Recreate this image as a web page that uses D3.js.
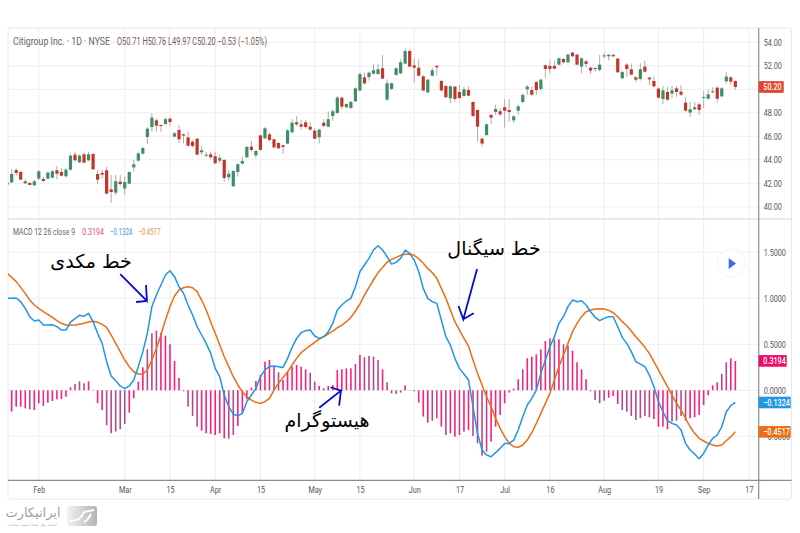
<!DOCTYPE html>
<html>
<head>
<meta charset="utf-8">
<title>Citigroup MACD</title>
<script src="https://cdn.jsdelivr.net/npm/d3@7/dist/d3.min.js"></script>
<style>
	html, body { margin: 0; padding: 0; background: #fff; }
	svg { display: block; }
	text { font-family: Roboto, "Open Sans", sans-serif; }
	.fa { font-family: "DejaVu Sans", sans-serif; fill: #000; direction: rtl; }
	.axis text { fill: #555; font-size: 9.5px; }
	.axis path, .axis line { display: none; }
</style>
</head>
<body>
<div id="chart"></div>
<script>
'use strict';

// candles, one entry per trading day
var opens = [41.89,42.08,43.13,42.96,42.0,42.03,41.83,42.4,42.37,42.4,42.48,43.11,42.96,42.6,43.16,44.44,43.79,44.47,43.96,44.5,42.79,42.88,43.11,41.49,41.2,42.14,41.55,41.97,43.36,43.93,44.52,45.94,46.79,47.36,46.96,47.05,47.5,45.97,46.54,46.17,45.91,45.54,45.8,44.64,44.38,44.47,44.3,43.93,43.99,42.51,41.74,42.96,43.67,44.21,45.12,44.38,46.08,45.83,46.17,45.74,45.43,45.23,45.38,46.34,47.19,47.02,47.19,46.82,46.48,45.92,47.16,46.82,47.73,47.99,49.29,48.47,48.41,48.98,49.9,51.02,51.05,51.33,51.3,51.79,49.12,50.03,51.22,51.36,52.18,53.26,52.04,51.84,51.1,49.74,51.16,51.99,50.71,50.28,49.23,50.23,49.77,49.43,49.94,48.92,48.24,45.8,46.11,47.82,48.07,48.13,48.47,48.24,47.36,48.18,48.92,50.0,49.94,50.62,50.03,52.04,51.99,51.99,52.1,52.58,52.3,53.12,52.95,51.93,52.38,51.84,51.81,51.65,52.84,52.81,52.92,52.61,50.94,52.1,51.7,51.02,50.88,51.93,50.99,50.71,50.06,49.18,49.77,49.63,50.08,49.8,48.86,48.02,48.3,48.72,49.29,49.2,49.74,50.14,49.4,50.68,51.02,50.71];
var highs = [42.2,43.22,43.28,43.08,42.34,42.08,42.28,43.13,42.57,43.0,43.13,43.47,43.28,43.28,44.47,44.67,44.47,44.64,44.69,44.55,43.13,43.13,43.42,42.71,42.71,42.71,42.57,43.02,43.99,44.69,45.12,46.77,47.96,47.53,47.02,47.62,47.62,46.37,46.96,46.25,46.4,45.69,45.86,45.18,44.67,44.69,44.69,44.41,44.04,43.13,43.11,43.7,44.27,45.18,45.63,44.84,46.14,46.77,46.31,45.83,45.55,45.29,46.6,47.45,47.73,47.39,47.39,47.19,46.68,46.65,47.45,48.1,48.3,49.43,49.37,48.81,49.04,50.17,51.42,51.42,51.5,52.13,52.16,52.92,50.85,50.57,51.87,52.55,53.49,53.4,52.64,52.55,51.22,50.88,51.84,52.07,50.8,50.37,50.34,50.28,50.37,50.23,50.23,48.98,48.3,45.9,47.1,47.87,48.67,48.38,49.15,49.18,47.79,48.67,49.66,50.37,50.23,50.71,50.91,52.13,52.44,52.44,52.7,52.67,53.03,53.2,53.03,52.7,52.5,51.93,51.87,52.92,53.12,53.0,53.0,52.67,51.59,52.21,52.21,51.13,52.21,52.44,51.08,51.08,50.17,50.28,50.23,50.28,50.28,50.34,49.32,48.92,48.92,48.86,49.86,49.94,50.17,50.23,50.17,51.47,51.13,50.76];
var lows = [41.8,42.0,42.65,42.28,41.94,41.83,41.77,42.28,42.14,42.34,42.43,42.34,42.57,42.51,43.08,43.84,43.7,43.7,43.87,43.13,41.91,42.43,41.06,40.33,40.98,41.77,41.03,41.91,43.0,43.87,44.47,45.35,46.4,46.4,46.4,46.94,46.91,45.91,45.4,45.4,45.12,45.06,44.38,44.41,44.21,44.1,43.64,43.7,42.14,42.23,41.69,42.57,43.62,44.16,44.69,44.13,44.78,45.74,45.55,44.95,44.9,44.5,45.32,46.26,46.88,46.6,46.65,46.48,45.74,45.4,46.82,46.77,47.33,47.9,48.3,48.41,48.35,48.92,49.83,50.37,50.74,51.25,51.25,50.85,49.03,49.94,51.16,51.3,52.13,51.87,50.57,51.08,49.86,49.66,51.1,51.16,49.83,49.23,48.81,48.95,49.15,49.37,49.4,47.62,45.55,45.12,46.06,47.05,47.82,47.73,46.74,47.25,47.16,47.82,48.81,49.52,49.43,49.52,49.89,50.99,51.36,51.7,52.04,52.21,52.21,52.72,52.04,51.36,51.87,51.3,51.5,51.53,52.64,52.44,52.72,51.39,50.85,51.08,51.19,50.62,50.74,51.42,50.37,50.17,49.2,48.75,49.03,49.26,49.37,49.43,48.1,47.67,48.24,47.81,48.38,49.15,49.66,48.86,49.32,50.51,50.37,49.97];
var closes = [42.06,42.79,42.88,42.31,42.17,41.86,42.17,43.02,42.2,42.91,43.02,42.82,42.65,43.16,44.35,43.96,44.35,43.76,44.47,43.19,42.31,42.74,41.12,41.26,42.17,41.94,42.11,42.96,43.62,44.55,45.0,46.65,47.59,46.91,46.88,47.45,47.22,46.25,45.74,46.06,45.2,45.18,44.44,44.81,44.44,44.21,43.7,44.16,42.45,42.82,43.05,43.62,43.9,45.09,44.84,44.75,44.84,46.68,45.69,45.06,44.98,45.09,46.51,47.16,47.02,46.82,46.79,46.57,45.8,46.57,46.88,47.45,48.13,49.29,48.52,48.75,48.92,50.08,51.3,50.51,51.42,51.62,51.7,50.91,50.51,50.51,51.79,52.3,53.26,51.93,51.84,51.16,49.9,50.82,51.62,51.87,49.9,49.32,50.26,49.18,49.26,50.0,49.46,47.73,46.82,45.38,47.02,47.59,48.33,47.87,48.18,48.07,47.7,48.55,49.52,50.23,49.54,49.94,50.82,51.73,51.73,51.76,52.64,52.3,52.95,52.81,52.1,52.64,52.16,51.59,51.73,52.1,52.89,52.95,52.81,51.45,51.47,51.73,51.25,50.82,51.7,51.5,50.85,50.25,49.29,49.91,49.12,49.91,49.77,49.54,48.18,48.3,48.47,48.24,49.35,49.57,49.83,49.2,50.08,51.08,50.65,50.2];

// MACD pane
var macdLine = [1.0,1.0,1.003,0.963,0.891,0.8,0.753,0.764,0.71,0.71,0.713,0.692,0.655,0.655,0.742,0.778,0.815,0.804,0.836,0.746,0.619,0.51,0.311,0.155,0.105,0.047,0.018,0.047,0.112,0.257,0.42,0.619,0.909,1.036,1.144,1.253,1.3,1.235,1.126,1.054,0.927,0.818,0.692,0.601,0.51,0.402,0.239,0.148,-0.051,-0.178,-0.258,-0.279,-0.25,-0.124,-0.051,0.021,0.148,0.221,0.26,0.264,0.257,0.249,0.347,0.467,0.564,0.626,0.648,0.655,0.59,0.564,0.583,0.637,0.728,0.872,0.927,0.97,0.999,1.126,1.289,1.362,1.434,1.525,1.572,1.525,1.452,1.372,1.391,1.434,1.525,1.488,1.416,1.289,1.108,0.999,0.963,0.945,0.764,0.583,0.492,0.347,0.238,0.177,0.112,-0.178,-0.468,-0.649,-0.704,-0.722,-0.678,-0.631,-0.577,-0.577,-0.541,-0.432,-0.287,-0.16,-0.088,0.003,0.184,0.329,0.474,0.583,0.728,0.8,0.909,0.981,0.963,0.974,0.927,0.854,0.793,0.757,0.782,0.8,0.8,0.691,0.575,0.51,0.42,0.311,0.285,0.257,0.166,0.039,-0.124,-0.233,-0.33,-0.36,-0.378,-0.432,-0.577,-0.649,-0.693,-0.743,-0.686,-0.595,-0.522,-0.486,-0.396,-0.233,-0.167,-0.1324];
var signalLine = [1.271,1.228,1.181,1.119,1.054,0.981,0.927,0.891,0.855,0.826,0.793,0.757,0.728,0.71,0.706,0.71,0.717,0.728,0.742,0.75,0.739,0.717,0.684,0.601,0.51,0.42,0.329,0.257,0.202,0.177,0.177,0.221,0.329,0.456,0.601,0.764,0.909,1.025,1.09,1.115,1.126,1.115,1.072,0.981,0.873,0.746,0.619,0.492,0.365,0.257,0.148,0.058,-0.015,-0.069,-0.106,-0.131,-0.142,-0.124,-0.087,0.003,0.075,0.14,0.2,0.275,0.347,0.409,0.449,0.485,0.521,0.557,0.583,0.612,0.644,0.68,0.709,0.746,0.793,0.862,0.938,1.035,1.119,1.199,1.278,1.336,1.391,1.423,1.445,1.467,1.478,1.481,1.467,1.43,1.38,1.325,1.278,1.217,1.108,0.999,0.872,0.746,0.655,0.564,0.481,0.329,0.184,0.057,-0.07,-0.178,-0.305,-0.414,-0.504,-0.577,-0.613,-0.62,-0.595,-0.541,-0.461,-0.36,-0.251,-0.142,-0.033,0.112,0.257,0.383,0.51,0.637,0.728,0.8,0.854,0.872,0.883,0.887,0.883,0.869,0.843,0.8,0.746,0.702,0.644,0.583,0.528,0.467,0.401,0.311,0.221,0.13,0.039,-0.052,-0.142,-0.214,-0.305,-0.396,-0.468,-0.522,-0.551,-0.577,-0.595,-0.606,-0.595,-0.548,-0.504,-0.4517];
var histogram = [-0.25,-0.232,-0.178,-0.178,-0.196,-0.207,-0.214,-0.141,-0.17,-0.134,-0.116,-0.098,-0.094,-0.069,0.033,0.069,0.098,0.076,0.098,0.004,-0.141,-0.214,-0.38,-0.467,-0.449,-0.424,-0.366,-0.243,-0.087,0.094,0.25,0.446,0.62,0.649,0.627,0.594,0.5,0.319,0.134,-0.01,-0.178,-0.279,-0.395,-0.438,-0.467,-0.475,-0.486,-0.467,-0.522,-0.525,-0.486,-0.388,-0.25,-0.098,0.029,0.101,0.167,0.312,0.33,0.257,0.196,0.112,0.203,0.257,0.275,0.257,0.228,0.192,0.094,0.047,0.022,0.047,0.058,0.221,0.228,0.239,0.239,0.286,0.384,0.359,0.373,0.366,0.33,0.228,0.087,-0.033,-0.04,-0.025,0.054,0.004,-0.011,-0.134,-0.286,-0.351,-0.33,-0.304,-0.395,-0.486,-0.467,-0.504,-0.486,-0.449,-0.431,-0.496,-0.576,-0.71,-0.667,-0.558,-0.395,-0.268,-0.141,-0.025,0.018,0.119,0.228,0.348,0.366,0.391,0.446,0.536,0.565,0.554,0.554,0.5,0.486,0.431,0.304,0.228,0.12,-0.011,-0.105,-0.141,-0.112,-0.08,-0.062,-0.149,-0.214,-0.232,-0.279,-0.322,-0.304,-0.279,-0.293,-0.312,-0.395,-0.395,-0.424,-0.341,-0.33,-0.279,-0.33,-0.304,-0.293,-0.268,-0.159,-0.054,0.054,0.087,0.178,0.304,0.348,0.3194];
var mutedBars = [5,8,15,16,17,22,23,24,25,26,31,32,33,40,41,42,49,50,59,60,67,68,77,79,80,81,82,84,85,86,87,94,95,97,100,103,104,105,106,114,120,121,123,124,130,131,132,136,137,138,139,140,141,142,147,148,149,150,158,159];

// axes
var priceTicks = [54,52,50,48,46,44,42,40];
var macdTicks = [1.5,1,0.5,0,-0.5];
var timeTicks = [7,26,36,46,56,68,78,90,100,110,120,132,144,154,164];
var timeLabels = ['Feb','Mar','15','Apr','15','May','15','Jun','17','Jul','16','Aug','19','Sep','17'];

// annotations, in bar index and MACD value
var arrowMacd = [[25,1.264],[30.9,0.971],[30.7,1.145],[30.9,0.971],[28.5,0.96]];
var arrowSignal = [[103.9,1.318],[100.85,0.772],[99.8,0.916],[100.85,0.772],[103.15,0.837]];
var arrowHist = [[69,-0.189],[73.8,-0.004],[71.5,0.033],[73.8,-0.004],[73.4,-0.167]];

var width = 800;
var height = 533;

var green = '#3f8c6b';
var red = '#c4352a';
var blue = '#1f96e6';
var orange = '#ee6c12';
var pink = '#f8217a';
var mauve = '#b8478a';

var plotLeft = 8;
var plotRight = 758.7;
var plotTop = 28;
var split = 219;
var plotBottom = 480.3;
var frameBottom = 499;
var frameRight = 791.5;

var x = d3.scaleLinear().domain([0, 164]).range([7.15, 748.9]);
var yPrice = d3.scaleLinear().domain([40, 54]).range([206.8, 42.3]);
var yMacd = d3.scaleLinear().domain([-0.5, 1.5]).range([436.3, 252.3]);

// the reference text is a narrow, squeezed sans
function squeeze(selection, ratio) {
	selection.each(function() {
		d3.select(this)
			.attr('textLength', this.getComputedTextLength() * ratio)
			.attr('lengthAdjust', 'spacingAndGlyphs');
	});
}

var svg = d3.select('#chart')
	.append('svg')
		.attr('width', width)
		.attr('height', height);

svg.append('clipPath')
	.attr('id', 'plot')
	.append('rect')
		.attr('x', plotLeft)
		.attr('y', plotTop)
		.attr('width', plotRight - plotLeft)
		.attr('height', plotBottom - plotTop);

/**
 * Grid and frame
 */
var grid = svg.append('g')
	.attr('stroke', '#eeeeee')
	.attr('stroke-width', 1);

grid.selectAll('.vgrid')
	.data(timeTicks)
	.enter().append('line')
		.attr('class', 'vgrid')
		.attr('x1', function(d) { return x(d); })
		.attr('x2', function(d) { return x(d); })
		.attr('y1', plotTop)
		.attr('y2', plotBottom);

grid.selectAll('.pgrid')
	.data(priceTicks)
	.enter().append('line')
		.attr('class', 'pgrid')
		.attr('x1', plotLeft)
		.attr('x2', plotRight)
		.attr('y1', function(d) { return yPrice(d); })
		.attr('y2', function(d) { return yPrice(d); });

grid.selectAll('.mgrid')
	.data(macdTicks)
	.enter().append('line')
		.attr('class', 'mgrid')
		.attr('x1', plotLeft)
		.attr('x2', plotRight)
		.attr('y1', function(d) { return yMacd(d); })
		.attr('y2', function(d) { return yMacd(d); });

svg.append('rect')
	.attr('x', plotLeft)
	.attr('y', plotTop)
	.attr('width', frameRight - plotLeft)
	.attr('height', frameBottom - plotTop)
	.attr('rx', 2)
	.attr('fill', 'none')
	.attr('stroke', '#e8e8e8');

svg.append('line')
	.attr('x1', plotLeft)
	.attr('x2', frameRight)
	.attr('y1', split)
	.attr('y2', split)
	.attr('stroke', '#e2e2e2')
	.attr('stroke-width', 1.4);

svg.append('line')
	.attr('x1', plotLeft)
	.attr('x2', frameRight)
	.attr('y1', plotBottom)
	.attr('y2', plotBottom)
	.attr('stroke', '#8c8c8c')
	.attr('stroke-width', 1.2);

svg.append('line')
	.attr('x1', plotRight)
	.attr('x2', plotRight)
	.attr('y1', plotTop)
	.attr('y2', frameBottom)
	.attr('stroke', '#8c8c8c')
	.attr('stroke-width', 1.2);

/**
 * Candles
 */
var candles = svg.append('g')
	.attr('clip-path', 'url(#plot)')
	.selectAll('g')
	.data(closes)
	.enter().append('g');

candles.append('line')
	.attr('x1', function(d, i) { return x(i); })
	.attr('x2', function(d, i) { return x(i); })
	.attr('y1', function(d, i) { return yPrice(highs[i]); })
	.attr('y2', function(d, i) { return yPrice(lows[i]); })
	.attr('stroke', '#a4a4a4')
	.attr('stroke-width', 0.9);

candles.append('rect')
	.attr('x', function(d, i) { return x(i) - 1.6; })
	.attr('width', 3.2)
	.attr('y', function(d, i) { return yPrice(Math.max(opens[i], d)); })
	.attr('height', function(d, i) { return Math.max(1, Math.abs(yPrice(opens[i]) - yPrice(d))); })
	.attr('fill', function(d, i) { return d >= opens[i] ? green : red; });

/**
 * MACD
 */
svg.append('g')
	.attr('clip-path', 'url(#plot)')
	.selectAll('rect')
	.data(histogram)
	.enter().append('rect')
		.attr('x', function(d, i) { return x(i) - 0.8; })
		.attr('width', 1.6)
		.attr('y', function(d) { return yMacd(Math.max(d, 0)); })
		.attr('height', function(d) { return Math.abs(yMacd(d) - yMacd(0)); })
		.attr('fill', function(d, i) { return mutedBars.indexOf(i) >= 0 ? mauve : pink; });

var line = d3.line()
	.x(function(d, i) { return x(i); })
	.y(function(d) { return yMacd(d); });

[[signalLine, orange], [macdLine, blue]].forEach(function(s) {
	svg.append('path')
		.datum(s[0])
		.attr('clip-path', 'url(#plot)')
		.attr('d', line)
		.attr('fill', 'none')
		.attr('stroke', s[1])
		.attr('stroke-width', 1.5)
		.attr('stroke-linejoin', 'round');
});

/**
 * Axes
 */
svg.append('g')
	.attr('class', 'axis')
	.attr('transform', 'translate(' + plotRight + ',0)')
	.call(d3.axisRight(yPrice).tickValues(priceTicks).tickFormat(d3.format('.2f')).tickSize(0).tickPadding(5));

// the -0.5000 label sits under the orange tag, as in the reference
svg.append('g')
	.attr('class', 'axis')
	.attr('transform', 'translate(' + plotRight + ',0)')
	.call(d3.axisRight(yMacd).tickValues(macdTicks).tickFormat(d3.format('.4f')).tickSize(0).tickPadding(5));

svg.append('g')
	.attr('class', 'axis')
	.attr('transform', 'translate(0,' + plotBottom + ')')
	.call(d3.axisBottom(x)
		.tickValues(timeTicks)
		.tickFormat(function(d, i) { return timeLabels[i]; })
		.tickSize(0)
		.tickPadding(6));

svg.selectAll('.axis text').call(squeeze, 0.76);

// value tags on the right axis
var tags = [
	[yPrice(closes[closes.length - 1]), '50.20', '#e0452f', 25],
	[yMacd(histogram[histogram.length - 1]), '0.3194', '#f00a6a', 28],
	[yMacd(macdLine[macdLine.length - 1]), '\u22120.1324', blue, 32],
	[yMacd(signalLine[signalLine.length - 1]), '\u22120.4517', orange, 32]
];

var tag = svg.selectAll('.tag')
	.data(tags)
	.enter().append('g')
		.attr('class', 'tag')
		.attr('transform', function(d) { return 'translate(' + plotRight + ',' + d[0] + ')'; });

tag.append('rect')
	.attr('x', 0)
	.attr('y', -5.8)
	.attr('width', function(d) { return d[3]; })
	.attr('height', 11.6)
	.attr('fill', function(d) { return d[2]; });

tag.append('text')
	.attr('x', 4.6)
	.attr('y', 3.3)
	.attr('fill', '#fff')
	.attr('font-size', 9.5)
	.attr('font-weight', 500)
	.text(function(d) { return d[1]; })
	.call(squeeze, 0.76);

/**
 * Legends
 */
function legend(xPos, yPos, str, color, size, len) {
	svg.append('text')
		.attr('x', xPos)
		.attr('y', yPos)
		.attr('fill', color)
		.attr('font-size', size)
		.attr('textLength', len)
		.attr('lengthAdjust', 'spacingAndGlyphs')
		.text(str);
}

legend(13, 44.8, 'Citigroup Inc. \u00b7 1D \u00b7 NYSE', '#666', 11, 97);
legend(117, 44.8, 'O50.71 H50.76 L49.97 C50.20 \u22120.53 (\u22121.05%)', '#7a5a55', 10, 150);
legend(13, 235, 'MACD 12 26 close 9', '#666', 9, 62);
legend(82.3, 235, '0.3194', '#e8408a', 9, 21.7);
legend(110, 235, '\u22120.1324', '#2f9be6', 9, 22.3);
legend(138.3, 235, '\u22120.4517', '#ee8a30', 9, 22.3);

/**
 * Annotations
 */
function arrow(points) {
	svg.append('path')
		.datum(points)
		.attr('d', d3.line()
			.x(function(d) { return x(d[0]); })
			.y(function(d) { return yMacd(d[1]); }))
		.attr('fill', 'none')
		.attr('stroke', '#0808d8')
		.attr('stroke-width', 1.8);
}

arrow(arrowMacd);
arrow(arrowSignal);
arrow(arrowHist);

function note(xPos, yPos, str) {
	svg.append('text')
		.attr('class', 'fa')
		.attr('x', xPos)
		.attr('y', yPos)
		.attr('text-anchor', 'middle')
		.attr('font-size', 19)
		.text(str);
}

note(91, 268, '\u062e\u0637 \u0645\u06a9\u062f\u06cc');
note(494, 255, '\u062e\u0637 \u0633\u06cc\u06af\u0646\u0627\u0644');
note(327, 427, '\u0647\u06cc\u0633\u062a\u0648\u06af\u0631\u0627\u0645');

// play button
svg.append('circle')
	.attr('cx', 731)
	.attr('cy', 263)
	.attr('r', 14)
	.attr('fill', '#fff')
	.attr('stroke', '#f2f2f2');

svg.append('path')
	.attr('d', 'M728.7,258L736,263.5L728.7,269Z')
	.attr('fill', '#3d6ee0');

/**
 * Watermark
 */
var shade = svg.append('linearGradient')
	.attr('id', 'mark');
shade.append('stop').attr('offset', '0').attr('stop-color', '#f2f2f2');
shade.append('stop').attr('offset', '1').attr('stop-color', '#b4b4b4');

svg.append('rect')
	.attr('x', 67)
	.attr('y', 506)
	.attr('width', 30)
	.attr('height', 20)
	.attr('rx', 3)
	.attr('fill', 'url(#mark)');

svg.append('path')
	.attr('d', 'M70,521C78,521 82,518 84,512L94,510M84,522C88,520 90,516 91,514')
	.attr('fill', 'none')
	.attr('stroke', '#fff')
	.attr('stroke-width', 2);

svg.append('text')
	.attr('class', 'fa')
	.attr('x', 33)
	.attr('y', 517)
	.attr('text-anchor', 'middle')
	.attr('font-size', 13)
	.style('fill', '#a0a0a0')
	.text('\u0627\u06cc\u0631\u0627\u0646\u06cc\u06a9\u0627\u0631\u062a');

svg.append('text')
	.attr('class', 'fa')
	.attr('x', 32)
	.attr('y', 526)
	.attr('text-anchor', 'middle')
	.attr('font-size', 4)
	.style('fill', '#b0b0b0')
	.text('\u0627\u0645\u0646\u06cc\u062a \u067e\u0648\u0644 \u0634\u0645\u0627\u060c \u0627\u0645\u0646\u06cc\u062a \u0645\u0627\u0633\u062a');
</script>
</body>
</html>
